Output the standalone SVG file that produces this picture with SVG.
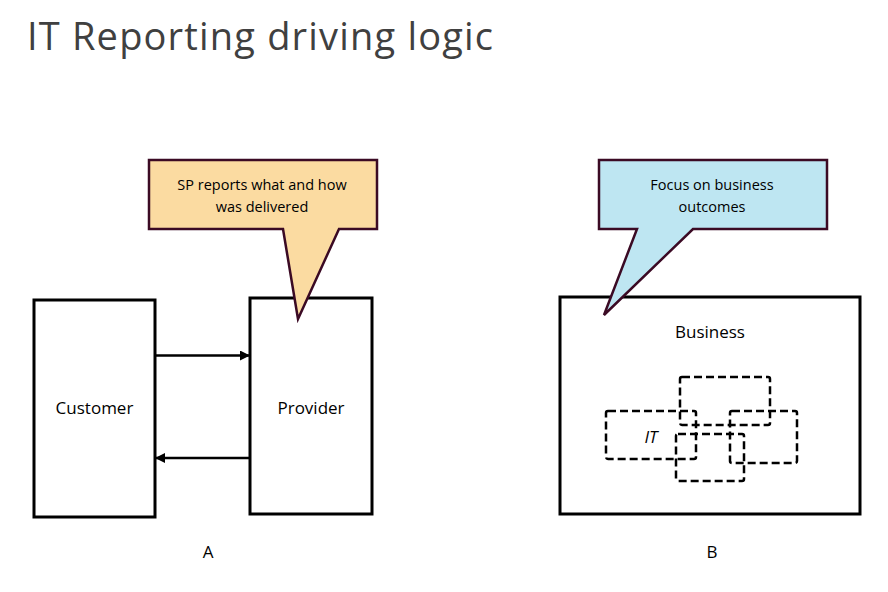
<svg xmlns="http://www.w3.org/2000/svg" width="888" height="592" viewBox="0 0 888 592">
<style>
text{font-family:"Open Sans","Liberation Sans",Arial,sans-serif;fill:#000}
.box{fill:#fff;stroke:#000;stroke-width:3}
.dash{fill:none;stroke:#000;stroke-width:2.5;stroke-dasharray:8 4}
.lbl{font-size:17px;text-anchor:middle}
.co{font-size:14.5px;text-anchor:middle}
.conn{stroke:#000;stroke-width:2.5;fill:none}
</style>
<defs>
<marker id="ah" viewBox="0 0 10 10" refX="10" refY="5" markerWidth="4" markerHeight="4" orient="auto" markerUnits="strokeWidth">
<path d="M0,0 L10,5 L0,10 z" fill="#000"/>
</marker>
</defs>
<rect width="888" height="592" fill="#fff"/>
<text x="27" y="50" font-size="38" style="fill:#404040" textLength="466">IT Reporting driving logic</text>
<g id="customer">
<rect class="box" x="34" y="300" width="121" height="217"/>
<text class="lbl" x="94.5" y="414">Customer</text>
</g>
<g id="provider">
<rect class="box" x="250" y="298" width="122" height="216"/>
<text class="lbl" x="311" y="414">Provider</text>
</g>
<g id="connectors">
<line class="conn" x1="155" y1="355.5" x2="250" y2="355.5" marker-end="url(#ah)"/>
<line class="conn" x1="250" y1="458" x2="155" y2="458" marker-end="url(#ah)"/>
</g>
<g id="callout-a">
<path d="M149,160 H377 V229 H339 L298,319 L283,229 H149 Z" fill="#FBDBA1" stroke="#3B0A24" stroke-width="2.5" stroke-linejoin="miter"/>
<text class="co" x="262" y="190">SP reports what and how</text>
<text class="co" x="262" y="212">was delivered</text>
</g>
<g id="business">
<rect class="box" x="560" y="297" width="300" height="217"/>
<text class="lbl" x="710" y="338">Business</text>
<rect class="dash" x="606" y="411" width="90" height="48" rx="2"/>
<rect class="dash" x="680" y="377" width="90" height="48" rx="2"/>
<rect class="dash" x="730" y="411" width="67" height="52" rx="2"/>
<rect class="dash" x="676" y="434" width="68" height="47" rx="2"/>
<text class="lbl" x="651" y="443" font-style="italic">IT</text>
</g>
<g id="callout-b">
<path d="M599,160 H827 V229 H693 L604,315 L637,229 H599 Z" fill="#BEE6F2" stroke="#3B0A24" stroke-width="2.5" stroke-linejoin="miter"/>
<text class="co" x="712" y="190">Focus on business</text>
<text class="co" x="712" y="212">outcomes</text>
</g>
<text class="lbl" x="208" y="558">A</text>
<text class="lbl" x="712" y="558">B</text>
</svg>
